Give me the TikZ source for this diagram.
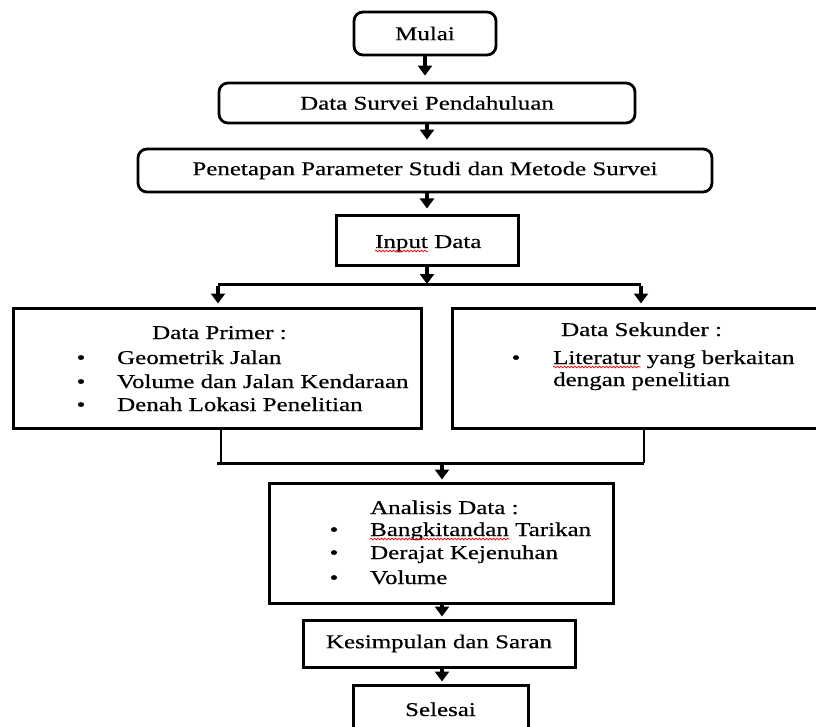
\documentclass[tikz,border=0pt]{standalone}
\usepackage{fontspec}
\setmainfont{Liberation Serif}[FakeStretch=1.28,FakeBold=0.4]
\usetikzlibrary{arrows.meta,decorations.pathmorphing}
\begin{document}
\begin{tikzpicture}[x=1pt,y=-1pt,
  rbox/.style={draw,line width=2.8pt,rounded corners=9pt,inner sep=0pt},
  sbox/.style={draw,line width=3pt,inner sep=0pt},
  arr/.style={line width=4.5pt,-{Triangle[width=14pt,length=10pt]}},
  thinline/.style={line width=1.6pt},
  thickline/.style={line width=3pt},
  txt/.style={font=\fontsize{19.5}{24}\selectfont,inner sep=0pt},
  wavy/.style={red,line width=0.7pt,decorate,decoration={snake,amplitude=0.9pt,segment length=3.5pt}}]
\path[use as bounding box, clip] (0,0) rectangle (816,727);
\fill[white] (0,0) rectangle (816,727);

% single-line boxes
\node[rbox,txt,minimum width=142pt,minimum height=43pt] (mulai) at (425,33.5) {Mulai};
\node[rbox,txt,minimum width=416pt,minimum height=40pt] (survei) at (427,103) {Data Survei Pendahuluan};
\node[rbox,txt,minimum width=574pt,minimum height=43pt] (tetap) at (425,170.5) {Penetapan Parameter Studi dan Metode Survei};
\node[sbox,minimum width=182pt,minimum height=50pt] (input) at (427,241) {};
\node[txt,anchor=base west] (in1) at (375,248) {Input};
\node[txt,anchor=base west] (in2) at ([xshift=6pt]in1.base east) {Data};
\draw[wavy] ([yshift=-3pt]in1.base west) -- ([yshift=-3pt]in1.base east);

% data boxes
\node[sbox,minimum width=408pt,minimum height=120pt] (primer) at (217,368) {};
\node[sbox,minimum width=380pt,minimum height=120pt] (sekunder) at (642,368) {};
\node[txt,anchor=base west] (p0) at (152,339) {Data Primer :};
\node[txt,anchor=base] (pb1) at (81,364) {\textbullet};
\node[txt,anchor=base west] (p1) at (117,364) {Geometrik Jalan};
\node[txt,anchor=base] (pb2) at (81,388) {\textbullet};
\node[txt,anchor=base west] (p2) at (117,388) {Volume dan Jalan Kendaraan};
\node[txt,anchor=base] (pb3) at (81,411) {\textbullet};
\node[txt,anchor=base west] (p3) at (117,411) {Denah Lokasi Penelitian};

\node[txt,anchor=base west] (s0) at (561,336) {Data Sekunder :};
\node[txt,anchor=base] (sb1) at (516,364) {\textbullet};
\node[txt,anchor=base west] (s1a) at (553,364) {Literatur};
\node[txt,anchor=base west] (s1b) at ([xshift=6pt]s1a.base east) {yang berkaitan};
\draw[wavy] ([yshift=-3pt]s1a.base west) -- ([yshift=-3pt]s1a.base east);
\node[txt,anchor=base west] (s2) at (553,386) {dengan penelitian};

% analysis
\node[sbox,minimum width=344pt,minimum height=120pt] (analisis) at (441,543) {};
\node[txt,anchor=base west] (a0) at (370,514) {Analisis Data :};
\node[txt,anchor=base] (ab1) at (334,536) {\textbullet};
\node[txt,anchor=base west] (a1a) at (370,536) {Bangkitandan};
\node[txt,anchor=base west] (a1b) at ([xshift=6pt]a1a.base east) {Tarikan};
\draw[wavy] ([yshift=-3pt]a1a.base west) -- ([yshift=-3pt]a1a.base east);
\node[txt,anchor=base] (ab2) at (334,559) {\textbullet};
\node[txt,anchor=base west] (a2) at (370,559) {Derajat Kejenuhan};
\node[txt,anchor=base] (ab3) at (334,584) {\textbullet};
\node[txt,anchor=base west] (a3) at (370,584) {Volume};

\node[sbox,txt,minimum width=272pt,minimum height=47pt] (simpul) at (439,643.5) {Kesimpulan dan Saran};
\node[sbox,minimum width=175pt,minimum height=60pt] (selesai) at (440.5,715) {};
\node[txt,anchor=base] (seltxt) at (440.5,716) {Selesai};

% connectors
\draw[arr,shorten >=6pt] (mulai.south) -- (mulai.south |- survei.north);
\draw[arr,shorten >=8pt] (survei.south) -- (survei.south |- tetap.north);
\draw[arr,shorten >=6pt] (tetap.south -| input.north) -- (input.north);
\coordinate (split) at (427,284);
\coordinate (splitL) at (218,284);
\coordinate (splitR) at (641,284);
\draw[arr] (input.south) -- (split);
\draw[thickline] (splitL) -- (splitR);
\draw[arr,shorten >=3pt] ([yshift=-1.5pt]splitL) -- (splitL |- primer.north);
\draw[arr,shorten >=3pt] ([yshift=-1.5pt]splitR) -- (splitR |- sekunder.north);

\coordinate (joinL) at (221,463);
\coordinate (joinR) at (644,463);
\coordinate (joinM) at (442,463);
\draw[thinline] (primer.south -| joinL) -- (joinL);
\draw[thinline] (sekunder.south -| joinR) -- (joinR);
\draw[thickline] ([xshift=-4pt]joinL) -- (joinR);
\draw[arr,shorten >=2pt] (joinM) -- (joinM |- analisis.north);
\draw[arr,shorten >=2pt] (analisis.south -| joinM) -- (joinM |- simpul.north);
\draw[arr,shorten >=2pt] (simpul.south -| joinM) -- (joinM |- selesai.north);
\end{tikzpicture}
\end{document}
